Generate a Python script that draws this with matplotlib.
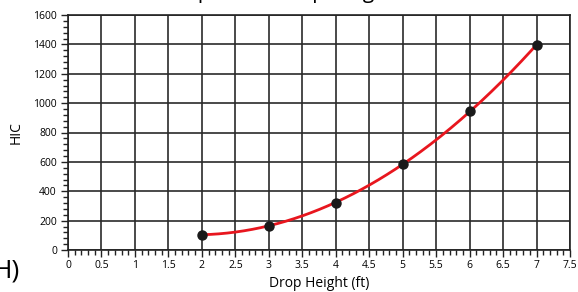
import numpy as np
import matplotlib
matplotlib.use('Agg')
import matplotlib.pyplot as plt
from matplotlib.ticker import MultipleLocator

drop_height = [2, 3, 4, 5, 6, 7]
hic = [105, 165, 320, 585, 945, 1395]

x_ticks = [0, 0.5, 1, 1.5, 2, 2.5, 3, 3.5, 4, 4.5, 5, 5.5, 6, 6.5, 7, 7.5]
x_tick_labels = ['0', '0.5', '1', '1.5', '2', '2.5', '3', '3.5', '4', '4.5',
                 '5', '5.5', '6', '6.5', '7', '7.5']
y_ticks = [0, 200, 400, 600, 800, 1000, 1200, 1400, 1600]

plt.rcParams['font.family'] = ['Open Sans', 'DejaVu Sans']

fig = plt.figure(figsize=(5.78, 2.92), dpi=100)
ax = fig.add_axes([68 / 578, 1 - 250 / 292, 502 / 578, 235 / 292])

# trend curve (quadratic fit through the points)
coef = np.polyfit(drop_height, hic, 2)
xs = np.linspace(drop_height[0], drop_height[-1], 200)
ax.plot(xs, np.polyval(coef, xs), color='#e8161e', lw=2, zorder=3)
ax.plot(drop_height, hic, 'o', color='#1a1a1a', ms=6.5, zorder=4)

ax.set_xlim(0, 7.5)
ax.set_ylim(0, 1600)
ax.set_xticks(x_ticks)
ax.set_xticklabels(x_tick_labels)
ax.set_yticks(y_ticks)
ax.xaxis.set_minor_locator(MultipleLocator(0.1))
ax.yaxis.set_minor_locator(MultipleLocator(40))
ax.tick_params(which='both', direction='out', color='#222', width=1, labelsize=7.5)
ax.tick_params(axis='x', which='both', pad=2)
ax.tick_params(axis='y', which='both', pad=3)
ax.tick_params(which='major', length=5)
ax.tick_params(which='minor', length=3.5)
ax.grid(True, which='major', color='#2a2a2a', lw=1.2)
for s in ax.spines.values():
    s.set_color('#222')
    s.set_linewidth(1.2)

ax.set_xlabel('Drop Height (ft)', fontsize=10, labelpad=4)
ax.set_ylabel('HIC', fontsize=10)
ax.yaxis.set_label_coords(-0.088, 0.5)

# title is cut off at the top of the image
fig.text(0.49, 1 + 2 / 292, 'Impact vs. Drop Height', fontsize=15,
         ha='center', va='baseline')
fig.text(20 / 578, 1 - 278 / 292, 'H)', fontsize=19, ha='right', va='baseline')

fig.savefig('out.png', dpi=100)
